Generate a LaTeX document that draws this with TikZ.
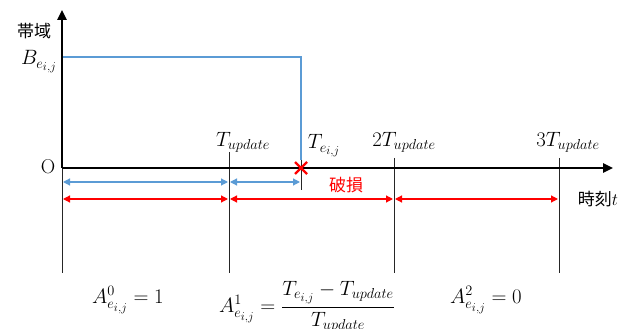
\documentclass[tikz,border=0pt]{standalone}
\usepackage{amsmath}
\usepackage{fontspec}
\newfontfamily\jpfont{Noto Sans CJK JP}
\usetikzlibrary{arrows.meta,calc}
\DeclareMathSizes{20}{20}{15.5}{12}
\definecolor{bwblue}{RGB}{91,155,213}
\definecolor{brkred}{RGB}{255,0,0}
\newcommand{\Tup}{T_{update}}
\newcommand{\eij}{e_{i,j}}

\begin{document}
\begin{tikzpicture}[x=1pt, y=-1pt,
  font=\fontsize{20}{24}\selectfont,
  axis/.style={line width=2.4pt, -{Triangle[length=10pt,width=9pt]}},
  tick/.style={line width=0.7pt, black!85},
  bwline/.style={draw=bwblue, line width=1.4pt},
  bspan/.style={draw=bwblue, line width=1.2pt, {Triangle[length=7pt,width=7pt]}-{Triangle[length=7pt,width=7pt]}},
  rspan/.style={draw=brkred, line width=1.2pt, {Triangle[length=7pt,width=7pt]}-{Triangle[length=7pt,width=7pt]}},
  jp/.style={font=\jpfont\fontsize{17}{20}\selectfont}]
  \useasboundingbox (0,0) rectangle (641,329);
  % time points on the axis
  \coordinate (O) at (62,168);
  \coordinate (t1) at (229,168);
  \coordinate (tb) at (301,168);
  \coordinate (t2) at (394,168);
  \coordinate (t3) at (559,168);
  \coordinate (ytop) at (62,10);
  \coordinate (xend) at (613,168);
  \coordinate (bw) at (62,57);
  % guide lines
  \draw[tick] (O) -- ++(0,105);
  \draw[tick] ($(t1)+(0,-16)$) -- ++(0,121);
  \draw[tick] ($(t2)+(0,-10)$) -- ++(0,115);
  \draw[tick] ($(t3)+(0,-10)$) -- ++(0,115);
  \draw[tick] ($(tb)+(0,-10)$) -- ++(0,32);
  % bandwidth
  \draw[bwline] (bw) -| ($(tb)+(0,-8)$);
  % axes
  \draw[axis] (O) -- (ytop);
  \draw[axis] (O) -- (xend);
  % break point
  \draw[brkred, line width=2.2pt] ($(tb)+(-6,-6)$) -- ($(tb)+(6,6)$)
    ($(tb)+(-6,6)$) -- ($(tb)+(6,-6)$);
  % spans
  \draw[bspan] ($(O)+(1,14)$) -- ($(t1)+(-1,14)$);
  \draw[bspan] ($(t1)+(1,14)$) -- ($(tb)+(-1,14)$);
  \draw[rspan] ($(O)+(1,31)$) -- ($(t1)+(-1,31)$);
  \draw[rspan] ($(t1)+(1,31)$) -- ($(t2)+(-1,31)$);
  \draw[rspan] ($(t2)+(1,31)$) -- ($(t3)+(-1,31)$);
  % labels
  \node[jp] (lbw) at (34,31) {帯域};
  \node[anchor=east, inner sep=1pt] (lB) at (58,62) {$B_{\eij}$};
  \node (lO) at (48,167) {O};
  \node (l1) at (243,142) {$\Tup$};
  \node (lb) at (324,146) {$T_{\eij}$};
  \node (l2) at (404,142) {$2\Tup$};
  \node (l3) at (568,142) {$3\Tup$};
  \node[jp, text=brkred] (lbrk) at (346,185) {破損};
  \node (lt) at (598,199) {\jpfont\fontsize{17}{20}\selectfont 時刻$t$};
  \node (a0) at (128,300) {$A^0_{\eij}=1$};
  \node (a1) at (307,307) {$A^1_{\eij}=\dfrac{T_{\eij}-\Tup}{\Tup}$};
  \node (a2) at (486,300) {$A^2_{\eij}=0$};
\end{tikzpicture}
\end{document}
